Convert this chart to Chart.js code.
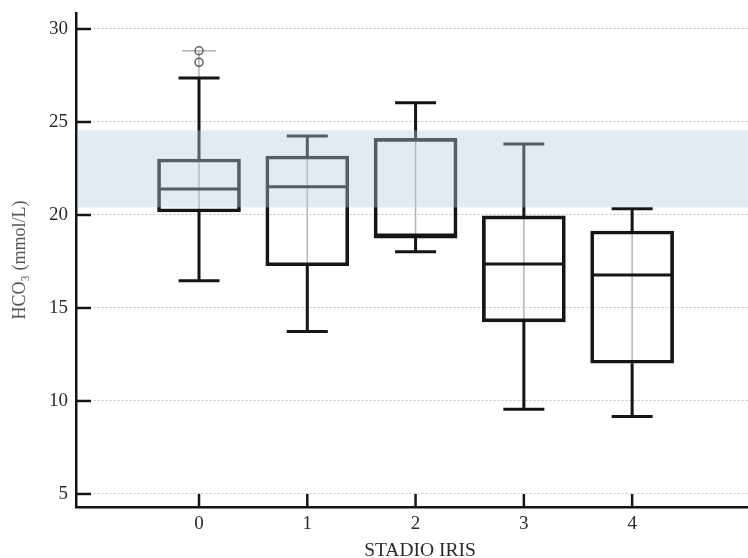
<!DOCTYPE html>
<html>
<head>
<meta charset="utf-8">
<script src="https://cdn.jsdelivr.net/npm/chart.js@4/dist/chart.umd.min.js"></script>
<style>
  html, body { margin: 0; padding: 0; background: #ffffff; }
  #wrap { width: 748px; height: 558px; }
</style>
</head>
<body>
<div id="wrap"><canvas id="c" width="748" height="558"></canvas></div>
<script>
// ---- data ----
const categories  = [0, 1, 2, 3, 4];
const whiskerLow  = [16.47, 13.74, 18.03, 9.55, 9.16];
const q1          = [20.16, 17.27, 18.76, 14.25, 12.03];
const median      = [21.40, 21.52, 18.92, 17.37, 16.77];
const q3          = [23.01, 23.17, 24.12, 19.95, 19.14];
const whiskerHigh = [27.37, 24.25, 26.04, 23.82, 20.34];
const outliers    = [[28.83, 28.21], [], [], [], []];
const referenceBand = [20.41, 24.55];
const yTicks = [5, 10, 15, 20, 25, 30];
const xTitle = 'STADIO IRIS';
const yTitle = 'HCO\u2083 (mmol/L)';

// ---- derived tables for the library ----
const boxData = categories.map((c, i) => ({ x: c, y: [q1[i], q3[i]] }));
const outlierData = [];
categories.forEach((c, i) => outliers[i].forEach(v => outlierData.push({ x: c, y: v })));

const FONT = "'Liberation Serif', 'Times New Roman', serif";

const boxPlugin = {
  id: 'boxExtras',
  beforeDatasetsDraw(chart) {
    const { ctx, scales: { x, y } } = chart;
    ctx.save();
    ctx.strokeStyle = '#b4b4b4';
    ctx.lineWidth = 1.5;
    categories.forEach((c, i) => {
      const px = x.getPixelForValue(c);
      ctx.beginPath();
      ctx.moveTo(px, y.getPixelForValue(q1[i]));
      ctx.lineTo(px, y.getPixelForValue(q3[i]));
      ctx.stroke();
      if (outliers[i].length) {
        const top = Math.max(...outliers[i]);
        ctx.beginPath();
        ctx.moveTo(px, y.getPixelForValue(whiskerHigh[i]));
        ctx.lineTo(px, y.getPixelForValue(top));
        ctx.stroke();
        ctx.beginPath();
        ctx.moveTo(px - 17, y.getPixelForValue(top));
        ctx.lineTo(px + 17, y.getPixelForValue(top));
        ctx.stroke();
      }
    });
    ctx.restore();
  },
  afterDatasetsDraw(chart) {
    const { ctx, chartArea, scales: { x, y } } = chart;
    ctx.save();
    ctx.strokeStyle = '#151515';
    ctx.lineWidth = 3;
    ctx.lineCap = 'butt';
    const half = 41.5, cap = 20.5;
    categories.forEach((c, i) => {
      const px = x.getPixelForValue(c);
      const yLo = y.getPixelForValue(whiskerLow[i]);
      const yQ1 = y.getPixelForValue(q1[i]);
      const yQ3 = y.getPixelForValue(q3[i]);
      const yHi = y.getPixelForValue(whiskerHigh[i]);
      const yMd = y.getPixelForValue(median[i]);
      ctx.beginPath();
      ctx.moveTo(px, yQ1); ctx.lineTo(px, yLo);
      ctx.moveTo(px, yQ3); ctx.lineTo(px, yHi);
      ctx.moveTo(px - cap, yLo); ctx.lineTo(px + cap, yLo);
      ctx.moveTo(px - cap, yHi); ctx.lineTo(px + cap, yHi);
      ctx.moveTo(px - half + 1.5, yMd); ctx.lineTo(px + half - 1.5, yMd);
      ctx.stroke();
    });
    // reference band, drawn translucent over the boxes
    const t = y.getPixelForValue(referenceBand[1]);
    const b = y.getPixelForValue(referenceBand[0]);
    ctx.fillStyle = 'rgba(180,205,230,0.4)';
    ctx.fillRect(chartArea.left + 1.5, t, chartArea.right - chartArea.left - 1.5, b - t);
    ctx.restore();
  },
  afterDraw(chart) {
    const { ctx, chartArea, scales: { x, y } } = chart;
    ctx.save();
    ctx.strokeStyle = '#151515';
    ctx.lineWidth = 2.5;
    yTicks.forEach(v => {
      const py = y.getPixelForValue(v);
      ctx.beginPath();
      ctx.moveTo(chartArea.left, py);
      ctx.lineTo(chartArea.left + 15, py);
      ctx.stroke();
    });
    categories.forEach(c => {
      const px = x.getPixelForValue(c);
      ctx.beginPath();
      ctx.moveTo(px, chartArea.bottom);
      ctx.lineTo(px, chartArea.bottom - 13);
      ctx.stroke();
    });
    // x axis title (slightly right of the plot centre, as in the reference)
    ctx.fillStyle = '#2a2a2a';
    ctx.font = '19.5px ' + FONT;
    ctx.textAlign = 'center';
    ctx.textBaseline = 'middle';
    ctx.fillText(xTitle, (chartArea.left + chartArea.right) / 2 + 8, 551);
    ctx.restore();
  }
};

new Chart(document.getElementById('c'), {
  type: 'bar',
  data: {
    datasets: [
      {
        type: 'bar',
        data: boxData,
        backgroundColor: 'rgba(0,0,0,0)',
        borderColor: '#151515',
        borderWidth: 3,
        borderSkipped: false,
        barThickness: 83,
        order: 2
      },
      {
        type: 'scatter',
        data: outlierData,
        pointRadius: 4,
        pointBorderWidth: 1.5,
        pointBorderColor: '#606060',
        pointBackgroundColor: 'rgba(255,255,255,0)',
        order: 1
      }
    ]
  },
  options: {
    responsive: false,
    animation: false,
    layout: { autoPadding: false, padding: { top: 13, right: 0, bottom: 0, left: 0 } },
    plugins: { legend: { display: false }, tooltip: { enabled: false } },
    scales: {
      x: {
        type: 'linear',
        min: -1.136,
        max: 5.07,
        offset: false,
        afterBuildTicks(s) { s.ticks = categories.map(v => ({ value: v })); },
        afterFit(s) { s.height = 51; s.paddingLeft = 0; s.paddingRight = 0; },
        grid: { display: false, drawTicks: false },
        border: { display: true, color: '#151515', width: 2.5 },
        ticks: { padding: 6, color: '#2a2a2a', font: { family: FONT, size: 19 }, maxRotation: 0,
                 callback: v => String(v) },
        title: { display: false, text: xTitle }
      },
      y: {
        type: 'linear',
        min: 4.30,
        max: 30.86,
        afterBuildTicks(s) { s.ticks = yTicks.map(v => ({ value: v })); },
        afterFit(s) { s.width = 76; s.paddingTop = 0; s.paddingBottom = 0; },
        grid: { display: true, drawTicks: false, color: '#c4c4c4', lineWidth: 1 },
        border: { display: true, color: '#151515', width: 2.5, dash: [2, 2] },
        ticks: { padding: 8, color: '#2a2a2a', font: { family: FONT, size: 19 } },
        title: { display: true, text: yTitle, color: '#555', font: { family: FONT, size: 18 },
                 padding: { top: 9, bottom: 0 } }
      }
    }
  },
  plugins: [boxPlugin]
});
</script>
</body>
</html>
